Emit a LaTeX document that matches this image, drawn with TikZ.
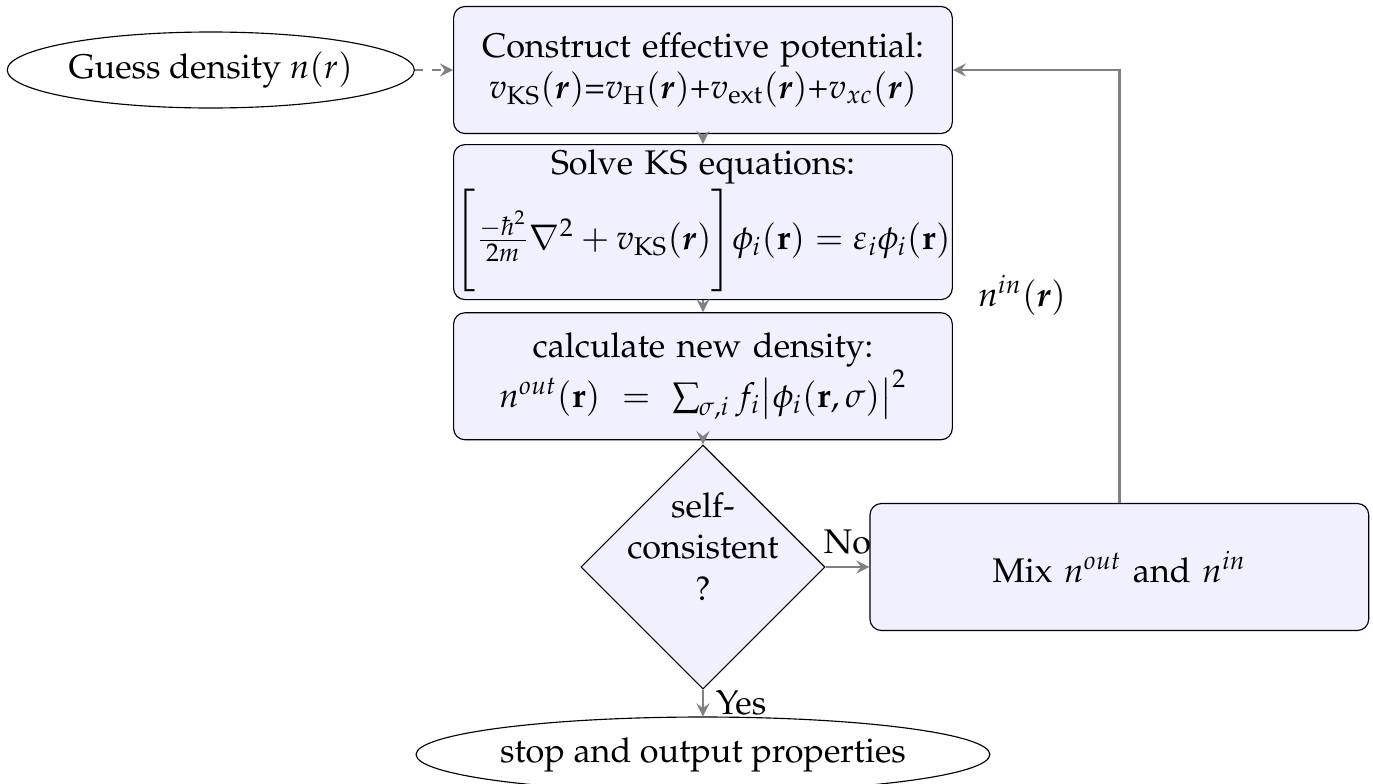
\documentclass[tikz,border=0pt,12pt]{standalone}
\usepackage[T1]{fontenc}
\usepackage{amsmath}
\usepackage{mathpazo}
\usetikzlibrary{positioning,shapes.geometric}

\begin{document}
\begin{tikzpicture}[
    node distance=0.12cm,
    block/.style={rectangle, draw, fill=blue!6, text width=6.15cm, text centered, rounded corners, minimum height=1.566cm, inner sep=0pt},
    decision/.style={diamond, draw, fill=blue!6, align=center, aspect=1, inner sep=-4.9pt, minimum width=3.01cm, minimum height=3.01cm},
    terminal/.style={ellipse, draw, text centered, inner sep=0pt},
    arrow/.style={line width=1pt,->,>=stealth,draw=gray}
]
    \useasboundingbox (0,0) rectangle (16.93,-9.667);

    \node (construct) [block] at (8.668,-0.863) {Construct effective potential:\\
        $v_{\mathrm{KS}}(\boldsymbol{r})$=$v_{\mathrm{H}}(\boldsymbol{r})$+$v_{\mathrm{ext}}(\boldsymbol{r})$+$v_{xc}(\boldsymbol{r})$};
    \node (solve) [block, below=0.123cm of construct, minimum height=1.911cm] {Solve KS equations:\\
        $\Bigg[\frac{-\hbar^2}{2m}\nabla^2+v_{\mathrm{KS}}(\boldsymbol{r})\Bigg]\phi_i(\mathbf{r})=\varepsilon_i\phi_i(\mathbf{r})$};
    \node (calc) [block, below=0.148cm of solve] {calculate new density:\\
        $n^{out}(\mathbf{r})\,=\,\sum_{\sigma,i} f_i\big|\phi_i(\mathbf{r},\sigma)\big|^2$};
    \node (check) [decision, below=0.05cm of calc] {self-\\consistent\\?\\ \mbox{}};
    \node (mix) [block, right=0.54cm of check] {Mix $n^{out}$ and $n^{in}$};
    \node (guess) [terminal, left=0.47cm of construct, minimum width=5.02cm, minimum height=0.937cm] {Guess density $n(r)$};
    \node (stop) [terminal, below=0.33cm of check, minimum width=6.97cm, minimum height=0.925cm] {stop and output properties};

    \draw [arrow, dashed] (guess) -- (construct);
    \draw [arrow] (construct) -- (solve);
    \draw [arrow] (solve) -- (calc);
    \draw [arrow] (calc) -- (check);
    \draw [arrow] (check) -- node[above] {No} (mix);
    \draw [arrow] (check) -- node[right] {Yes} (stop);
    \draw [arrow] (mix.north) |- node[pos=0.24, left=0.5cm] {$n^{in}(\boldsymbol{r})$} (construct.east);
\end{tikzpicture}
\end{document}
